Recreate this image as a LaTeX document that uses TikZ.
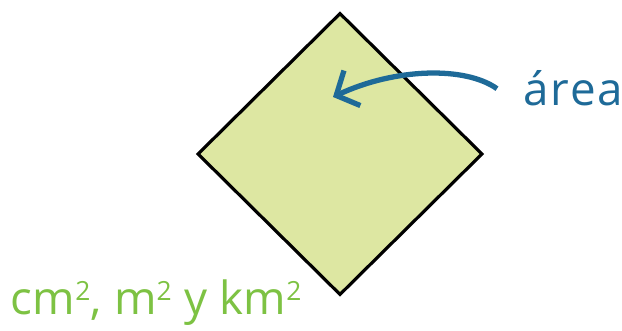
\documentclass[tikz,border=0pt]{standalone}
\usepackage{fontspec}
\newfontfamily\handfont[LetterSpace=4]{Open Sans}
\newfontfamily\unitfont[LetterSpace=1]{Open Sans}
\usepackage{tikz}
\usetikzlibrary{arrows.meta,positioning,shapes.geometric}

\definecolor{areablue}{HTML}{1E6A98}
\definecolor{unitgreen}{HTML}{7DC243}
\definecolor{squarefill}{HTML}{DDE7A2}

\newcommand{\sqr}{\raisebox{0.55ex}{\fontsize{7.5}{8}\selectfont 2}}

\begin{document}
\begin{tikzpicture}[
x=0.01cm, y=-0.01cm,
every node/.style={font=\handfont},
square/.style={
draw,
diamond,
line width=0.9pt,
fill=squarefill,
inner sep=0pt,
minimum width=2.85cm,
minimum height=2.82cm
},
label text/.style={
inner ysep=0pt
},
arrow/.style={-{Straight Barb[length=5pt,width=11pt]}, line width=1.5pt, areablue}
]
\useasboundingbox (0,0) rectangle (622,331);

% Square and labels
\node[square] (sq) at (340,154) {};

\node[label text, text=areablue, inner xsep=0.26cm, anchor=base west,
font=\handfont\fontsize{13}{15}\selectfont] (area) at (497,106) {área};

\node[label text, text=unitgreen, inner xsep=0pt, anchor=base west,
font=\unitfont\fontsize{13}{15}\selectfont] (units) at (10,314)
{cm\sqr, m\sqr{} y km\sqr};

\coordinate (tip) at (333,97);

% Arrow
\draw[arrow] (area.west) .. controls (465,66) and (395,68) .. (tip);

\end{tikzpicture}
\end{document}
